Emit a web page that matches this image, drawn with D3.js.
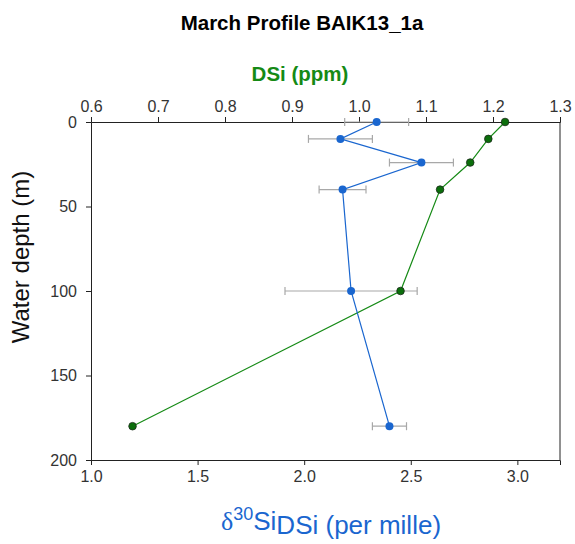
<!DOCTYPE html>
<html>
<head>
<meta charset="utf-8">
<script src="https://cdn.jsdelivr.net/npm/d3@7"></script>
<style>
  body { margin: 0; background: #fff; }
  svg { font-family: "Liberation Sans", Arial, sans-serif; }
</style>
</head>
<body>
<svg id="chart"></svg>
<script>
// Depth profile values
const depths = [0, 10, 24, 40, 100, 180];
const d30Si = [2.34, 2.17, 2.55, 2.18, 2.22, 2.40];
const d30SiErr = [0.15, 0.15, 0.15, 0.11, 0.31, 0.08];
const dsi = [1.218, 1.193, 1.166, 1.121, 1.062, 0.662];

const topTicks = [0.6, 0.7, 0.8, 0.9, 1.0, 1.1, 1.2, 1.3];
const bottomTicks = [1.0, 1.5, 2.0, 2.5, 3.0];
const depthTicks = [0, 50, 100, 150, 200];

const width = 575;
const height = 544;
const margin = { top: 122, right: 15, bottom: 84, left: 91 };

const svg = d3.select("#chart").attr("width", width).attr("height", height);

const xTop = d3.scaleLinear().domain([0.6, 1.3]).range([margin.left, width - margin.right]);
const xBottom = d3.scaleLinear().domain([1.0, 3.2]).range([margin.left, width - margin.right]);
const y = d3.scaleLinear().domain([0, 200]).range([margin.top, height - margin.bottom]);

const blue = "#1a66cf";
const green = "#158a15";

// Axes
const topAxis = svg.append("g")
  .attr("transform", `translate(0,${margin.top})`)
  .call(d3.axisTop(xTop).tickValues(topTicks).tickFormat(d3.format(".1f")).tickSizeOuter(0).tickSize(5).tickPadding(5));

const bottomAxis = svg.append("g")
  .attr("transform", `translate(0,${height - margin.bottom})`)
  .call(d3.axisBottom(xBottom).tickValues(bottomTicks).tickFormat(d3.format(".1f")).tickSizeOuter(0).tickSize(5).tickPadding(6));

const leftAxis = svg.append("g")
  .attr("transform", `translate(${margin.left},0)`)
  .call(d3.axisLeft(y).tickValues(depthTicks).tickSizeOuter(0).tickSize(5).tickPadding(9));

[topAxis, bottomAxis, leftAxis].forEach((g) => {
  g.selectAll("path, line").attr("stroke", "#222");
  g.selectAll("text").attr("fill", "#333").style("font-size", "16px")
    .style("font-family", "'Liberation Sans', Arial, sans-serif");
});

// right border
svg.append("line")
  .attr("x1", xTop.range()[1]).attr("x2", xTop.range()[1])
  .attr("y1", margin.top).attr("y2", height - margin.bottom)
  .attr("stroke", "#222");

// DSi series (top axis)
const greenData = depths.map((d, i) => ({ depth: d, v: dsi[i] }));
svg.append("path")
  .datum(greenData)
  .attr("fill", "none")
  .attr("stroke", green)
  .attr("stroke-width", 1.2)
  .attr("d", d3.line().x((d) => xTop(d.v)).y((d) => y(d.depth)));

// d30Si series (bottom axis)
const blueData = depths.map((d, i) => ({ depth: d, v: d30Si[i], e: d30SiErr[i] }));

const errs = svg.append("g").attr("stroke", "#a8a8a8").attr("stroke-width", 1.2);
blueData.forEach((d) => {
  const cy = y(d.depth);
  errs.append("line").attr("x1", xBottom(d.v - d.e)).attr("x2", xBottom(d.v + d.e)).attr("y1", cy).attr("y2", cy);
  errs.append("line").attr("x1", xBottom(d.v - d.e)).attr("x2", xBottom(d.v - d.e)).attr("y1", cy - 4).attr("y2", cy + 4);
  errs.append("line").attr("x1", xBottom(d.v + d.e)).attr("x2", xBottom(d.v + d.e)).attr("y1", cy - 4).attr("y2", cy + 4);
});

svg.append("path")
  .datum(blueData)
  .attr("fill", "none")
  .attr("stroke", blue)
  .attr("stroke-width", 1.2)
  .attr("d", d3.line().x((d) => xBottom(d.v)).y((d) => y(d.depth)));

svg.append("g").selectAll("circle")
  .data(blueData)
  .join("circle")
  .attr("cx", (d) => xBottom(d.v))
  .attr("cy", (d) => y(d.depth))
  .attr("r", 4)
  .attr("fill", blue);

svg.append("g").selectAll("circle")
  .data(greenData)
  .join("circle")
  .attr("cx", (d) => xTop(d.v))
  .attr("cy", (d) => y(d.depth))
  .attr("r", 3.8)
  .attr("fill", "#0b6e0b")
  .attr("stroke", "#1a2a1a")
  .attr("stroke-width", 0.8);

// Titles
svg.append("text")
  .attr("x", 302).attr("y", 30)
  .attr("text-anchor", "middle")
  .style("font-size", "20.5px").style("font-weight", "bold")
  .text("March Profile BAIK13_1a");

svg.append("text")
  .attr("x", 300).attr("y", 81)
  .attr("text-anchor", "middle")
  .attr("fill", green)
  .style("font-size", "20.5px").style("font-weight", "bold")
  .text("DSi (ppm)");

svg.append("text")
  .attr("transform", "translate(29,257) rotate(-90)")
  .attr("text-anchor", "middle")
  .style("font-size", "24px")
  .attr("fill", "#111")
  .text("Water depth (m)");

const xTitle = svg.append("text")
  .attr("x", 331).attr("y", 530)
  .attr("text-anchor", "middle")
  .attr("fill", blue)
  .style("font-size", "26px");
xTitle.append("tspan").style("font-family", "'Liberation Serif', serif").text("δ");
xTitle.append("tspan").attr("dy", -10).style("font-size", "18px").text("30");
xTitle.append("tspan").attr("dy", 10).text("Si");
xTitle.append("tspan").attr("dy", 4).text("DSi (per mille)");
</script>
</body>
</html>
